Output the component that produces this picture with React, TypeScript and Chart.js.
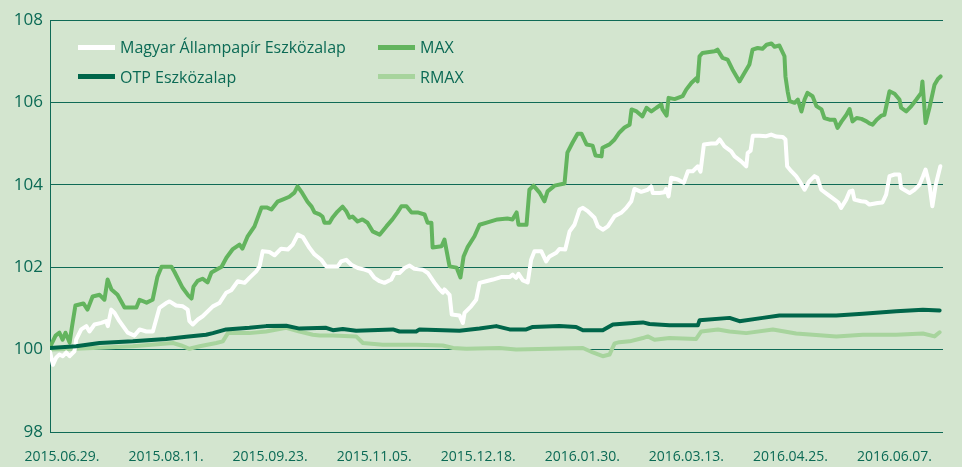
import React, { useEffect, useRef } from "react";
import { Chart, registerables } from "chart.js";

Chart.register(...registerables);

// ---- axis data ----
const TICK_LABELS = [
  "2015.06.29.", "2015.08.11.", "2015.09.23.", "2015.11.05.", "2015.12.18.",
  "2016.01.30.", "2016.03.13.", "2016.04.25.", "2016.06.07.",
];
const TICK_STEP_DAYS = 43;
const X_MAX_DAYS = 369;
const Y_TICKS = [98, 100, 102, 104, 106, 108];

// ---- series: day offsets and index values ----
const MAGYAR_DAYS = [0, 1.2, 2.6, 3.9, 5.3, 6.7, 8.1, 10.1, 10.8, 12.9, 15, 16.3, 18.4, 21.2, 23.2, 23.9, 25.3, 26.7, 28.7, 32.1, 34.9, 37, 39.8, 42.5, 45.2, 48, 49.4, 52.1, 54.9, 56.9, 57.6, 59, 61.1, 63.1, 67.3, 70, 72.8, 74.9, 77.6, 80.4, 82.4, 85.2, 86.6, 87.9, 90.7, 92.8, 95.5, 98.3, 100.3, 102.4, 104.5, 107.2, 109.3, 112.1, 114.1, 116.9, 118.9, 120.3, 122.4, 124.5, 127.2, 130, 132, 134.1, 136.2, 138.2, 141, 142.4, 144.4, 146.5, 148.6, 150.6, 154, 156.1, 158.9, 161, 162.3, 163, 165.1, 166, 169.2, 170.6, 171.3, 174, 176.1, 177.5, 180.2, 183, 186.4, 189.9, 191.2, 192.6, 193.6, 195.4, 197.4, 198.8, 200.2, 203, 205, 206.4, 209.2, 210.5, 212.9, 214.7, 216.7, 218.8, 220.2, 222.2, 225, 226.4, 228.4, 230.5, 233.3, 236, 238.1, 240.2, 241.5, 244.3, 247, 248.4, 249.1, 251.9, 253.9, 254.6, 255.6, 256.7, 259.4, 261.9, 263.6, 265.6, 267.7, 268.8, 270.2, 273.2, 275.3, 276.7, 278.7, 281.5, 282.9, 285.6, 287.7, 288.3, 289.5, 290.4, 293.2, 296, 298, 300.2, 302.8, 303.9, 304.6, 306.3, 308.3, 309.7, 311.8, 313.8, 315.9, 317.1, 318.7, 321.4, 324.2, 325.8, 326.9, 329, 330.4, 331.6, 332.4, 335.2, 337, 338.6, 342, 344, 345.5, 346.9, 349, 351, 351.7, 355.2, 357.2, 359.3, 360.7, 361.8, 363.4, 364.6, 366, 367.9];
const MAGYAR_VALUES = [99.95, 99.63, 99.81, 99.88, 99.84, 99.93, 99.84, 99.96, 100.24, 100.49, 100.57, 100.44, 100.61, 100.65, 100.69, 100.57, 100.97, 100.89, 100.69, 100.41, 100.34, 100.49, 100.44, 100.44, 101.01, 101.13, 101.17, 101.07, 101.05, 100.97, 100.69, 100.61, 100.73, 100.81, 101.05, 101.13, 101.38, 101.44, 101.66, 101.62, 101.74, 101.9, 102.02, 102.39, 102.37, 102.29, 102.45, 102.43, 102.55, 102.79, 102.73, 102.47, 102.31, 102.18, 102.02, 102.02, 102.02, 102.14, 102.18, 102.06, 101.98, 101.94, 101.9, 101.74, 101.66, 101.62, 101.7, 101.86, 101.86, 101.98, 102.04, 101.96, 101.94, 101.86, 101.62, 101.46, 101.38, 101.46, 101.33, 100.85, 100.83, 100.65, 100.89, 101.05, 101.21, 101.62, 101.66, 101.7, 101.76, 101.76, 101.82, 101.74, 101.84, 101.68, 101.63, 102.18, 102.39, 102.39, 102.14, 102.26, 102.35, 102.44, 102.43, 102.87, 103.03, 103.4, 103.44, 103.36, 103.2, 102.99, 102.91, 102.99, 103.24, 103.32, 103.44, 103.6, 103.9, 103.83, 103.88, 103.96, 103.8, 103.8, 103.82, 103.9, 103.72, 104.17, 104.13, 104.05, 104.33, 104.33, 104.45, 104.32, 104.98, 105.0, 105.0, 105.1, 104.93, 104.81, 104.69, 104.57, 104.45, 104.77, 104.83, 105.19, 105.19, 105.18, 105.22, 105.17, 105.16, 105.1, 104.45, 104.33, 104.21, 104.09, 103.88, 104.09, 104.21, 104.17, 103.88, 103.76, 103.64, 103.57, 103.44, 103.64, 103.84, 103.86, 103.64, 103.6, 103.59, 103.52, 103.56, 103.57, 103.76, 104.21, 104.25, 104.25, 103.92, 103.8, 103.88, 104.0, 104.2, 104.37, 104.0, 103.48, 104.0, 104.45];

const OTP_DAYS = [0, 10.8, 20.5, 34.2, 48, 56.3, 64.5, 67.3, 72.8, 82.4, 89.3, 97.6, 103.1, 114.1, 116.9, 121, 126.5, 141.7, 144.4, 151.3, 152.7, 169.2, 177.5, 184.4, 189.9, 196.8, 199.5, 210.5, 217.4, 220.2, 228.4, 232.6, 239.5, 245, 247.7, 256, 267.7, 268.4, 280.8, 284.9, 294.5, 301.4, 324.9, 335.9, 349.7, 360.7, 367.6];
const OTP_VALUES = [100.04, 100.08, 100.16, 100.2, 100.26, 100.31, 100.36, 100.4, 100.49, 100.53, 100.57, 100.58, 100.51, 100.53, 100.47, 100.5, 100.46, 100.49, 100.44, 100.44, 100.49, 100.46, 100.51, 100.57, 100.49, 100.49, 100.55, 100.57, 100.55, 100.47, 100.47, 100.61, 100.64, 100.66, 100.62, 100.59, 100.59, 100.71, 100.77, 100.69, 100.77, 100.83, 100.83, 100.87, 100.93, 100.97, 100.95];

const MAX_DAYS = [0, 2.3, 3.9, 5.2, 6.4, 8.1, 9.1, 10.5, 13.8, 15.5, 17.6, 20.5, 22.5, 23.8, 25.4, 27.9, 30.8, 35.7, 37, 39.9, 42.4, 44.4, 46.1, 50.2, 51.4, 54.8, 57.2, 58.5, 59.3, 61, 63, 65.1, 66.7, 70.9, 72.9, 75.4, 78.3, 79.5, 81.6, 84.5, 87.4, 89.5, 91.5, 94, 96.1, 98.9, 101, 102.3, 103.9, 106.4, 108.1, 109.3, 111.4, 112.6, 113.4, 115.5, 116.7, 118.8, 120.9, 122.5, 123.8, 125, 127.1, 129.1, 131.2, 133.3, 136.2, 139, 141.5, 143.6, 145.2, 147.3, 149.4, 151.9, 154.8, 156, 157.6, 158.1, 161.8, 163, 165.1, 168, 169.6, 170.9, 172.5, 175.4, 177.5, 180.8, 184.9, 189, 191.1, 192.8, 193.6, 196.9, 198.1, 199.8, 202.3, 204.3, 205.6, 208.5, 212.6, 213.8, 215.9, 218, 219.6, 221.7, 224.2, 225.4, 227.9, 228.3, 231.2, 233.3, 235.3, 237.4, 239.5, 240.3, 242.4, 244.8, 246.5, 248.5, 250.6, 252.6, 253.1, 254.8, 255.6, 258.1, 261.4, 262.9, 265, 267.1, 267.6, 268.4, 269.6, 274.6, 275.8, 277.9, 280, 282, 284.9, 287, 289, 290.3, 292.4, 294.4, 296.1, 298.1, 299.4, 301.4, 303.5, 303.9, 304.8, 305.6, 307.7, 309, 310.5, 311.8, 313, 315.1, 316.7, 318.8, 320, 322.1, 324.2, 325.4, 327.1, 329.1, 330.4, 331.6, 333.3, 335.3, 337.4, 338.6, 339.9, 341.6, 343.6, 344.8, 346.9, 349, 351, 351.7, 353.8, 355.9, 358, 360, 360.5, 361.8, 363.4, 365.5, 366.9, 368];
const MAX_VALUES = [100.06, 100.34, 100.41, 100.24, 100.41, 100.17, 100.56, 101.07, 101.12, 100.97, 101.29, 101.33, 101.21, 101.7, 101.46, 101.33, 101.02, 101.02, 101.21, 101.14, 101.21, 101.77, 102.01, 102.01, 101.89, 101.5, 101.31, 101.24, 101.53, 101.67, 101.72, 101.63, 101.87, 102.01, 102.23, 102.43, 102.55, 102.45, 102.74, 102.99, 103.45, 103.45, 103.4, 103.59, 103.64, 103.71, 103.81, 103.96, 103.83, 103.59, 103.47, 103.33, 103.28, 103.23, 103.08, 103.08, 103.2, 103.35, 103.47, 103.35, 103.2, 103.23, 103.11, 103.16, 103.08, 102.87, 102.79, 102.99, 103.16, 103.33, 103.48, 103.48, 103.33, 103.33, 103.28, 103.08, 103.08, 102.48, 102.51, 102.67, 102.02, 101.99, 101.75, 102.26, 102.48, 102.75, 103.03, 103.09, 103.16, 103.18, 103.16, 103.33, 103.03, 103.03, 103.88, 103.98, 103.81, 103.6, 103.84, 103.98, 104.03, 104.78, 105.02, 105.24, 105.24, 104.98, 104.95, 104.71, 104.69, 104.9, 104.98, 105.1, 105.27, 105.39, 105.46, 105.83, 105.78, 105.66, 105.87, 105.78, 105.87, 105.95, 105.83, 105.68, 106.11, 106.08, 106.15, 106.31, 106.47, 106.59, 106.51, 107.12, 107.2, 107.24, 107.28, 107.08, 107.04, 106.8, 106.51, 106.72, 106.92, 107.28, 107.32, 107.3, 107.4, 107.43, 107.35, 107.38, 107.12, 106.63, 106.27, 106.03, 105.99, 106.07, 105.78, 106.07, 106.23, 106.15, 105.91, 105.83, 105.62, 105.58, 105.58, 105.38, 105.54, 105.7, 105.84, 105.54, 105.62, 105.6, 105.54, 105.49, 105.46, 105.58, 105.68, 105.7, 106.27, 106.21, 106.07, 105.87, 105.78, 105.91, 106.07, 106.23, 106.51, 105.5, 105.87, 106.43, 106.57, 106.63];

const RMAX_DAYS = [0, 10.8, 34.2, 50.8, 54.2, 57.6, 61.8, 68.7, 71.4, 73.5, 82.4, 89.3, 97.6, 103.1, 108.6, 111.4, 116.9, 126.5, 129.3, 137.5, 151.3, 162.3, 166.6, 172, 185.7, 192.6, 206.4, 220.2, 224.3, 228.4, 231.2, 233.3, 235.3, 239.5, 245, 247, 249.8, 256, 267, 269.1, 276, 280.8, 287.7, 298.7, 308.3, 324.9, 335.9, 349.7, 360.7, 365.5, 367.6];
const RMAX_VALUES = [100.0, 100.02, 100.08, 100.16, 100.1, 100.02, 100.08, 100.16, 100.2, 100.4, 100.4, 100.44, 100.53, 100.44, 100.36, 100.34, 100.34, 100.32, 100.16, 100.12, 100.12, 100.1, 100.04, 100.02, 100.04, 100.0, 100.02, 100.04, 99.93, 99.84, 99.88, 100.15, 100.18, 100.2, 100.28, 100.32, 100.24, 100.28, 100.26, 100.44, 100.49, 100.44, 100.4, 100.49, 100.39, 100.32, 100.36, 100.36, 100.39, 100.32, 100.42];

// ---- style ----
const BG = "#d3e5cf";
const TEXT = "#0b6a55";
const GRID = "#0f6a56";
const C_MAGYAR = "#ffffff";
const C_OTP = "#00664a";
const C_MAX = "#63b45e";
const C_RMAX = "#a7d49d";
const FONT = "'Open Sans', 'Noto Sans', sans-serif";

const LEGEND = [
  { label: "Magyar Állampapír Eszközalap", color: C_MAGYAR, left: 78, top: 47 },
  { label: "OTP Eszközalap", color: C_OTP, left: 78, top: 76.5 },
  { label: "MAX", color: C_MAX, left: 378, top: 47 },
  { label: "RMAX", color: C_RMAX, left: 378, top: 76.5 },
];

const toPoints = (days: number[], values: number[]) =>
  days.map((d, i) => ({ x: d, y: values[i] }));

export default function App() {
  const ref = useRef<HTMLCanvasElement | null>(null);

  useEffect(() => {
    if (!ref.current) return;
    const line = (label: string, data: any, color: string) => ({
      label,
      data,
      borderColor: color,
      backgroundColor: color,
      borderWidth: 4,
      pointRadius: 0,
      tension: 0,
      fill: false,
      borderJoinStyle: "round" as const,
      borderCapStyle: "round" as const,
    });
    const chart = new Chart(ref.current, {
      type: "line",
      data: {
        datasets: [
          line("OTP Eszközalap", toPoints(OTP_DAYS, OTP_VALUES), C_OTP),
          line("MAX", toPoints(MAX_DAYS, MAX_VALUES), C_MAX),
          line("Magyar Állampapír Eszközalap", toPoints(MAGYAR_DAYS, MAGYAR_VALUES), C_MAGYAR),
          line("RMAX", toPoints(RMAX_DAYS, RMAX_VALUES), C_RMAX),
        ],
      },
      options: {
        animation: false,
        responsive: false,
        devicePixelRatio: 1,
        layout: { padding: { left: 0, right: 19, top: 20, bottom: 0 } },
        plugins: { legend: { display: false }, tooltip: { enabled: false } },
        scales: {
          x: {
            type: "linear",
            min: 0,
            max: X_MAX_DAYS,
            grid: { display: false },
            border: { display: false },
            afterBuildTicks: (s: any) => {
              s.ticks = TICK_LABELS.map((_, i) => ({ value: i * TICK_STEP_DAYS }));
            },
            afterFit: (s: any) => {
              s.height = 35;
            },
            ticks: {
              autoSkip: false,
              maxRotation: 0,
              minRotation: 0,
              padding: 9,
              labelOffset: 12,
              color: TEXT,
              font: { family: FONT, size: 14 },
              callback: (v: any) => TICK_LABELS[Math.round(Number(v) / TICK_STEP_DAYS)] ?? "",
            },
          },
          y: {
            min: 98,
            max: 108,
            afterBuildTicks: (s: any) => {
              s.ticks = Y_TICKS.map((v) => ({ value: v }));
            },
            afterFit: (s: any) => {
              s.width = 50;
            },
            grid: { color: GRID, lineWidth: 1, drawTicks: false },
            border: { display: true, color: GRID, width: 1 },
            ticks: {
              padding: 7,
              color: TEXT,
              font: { family: FONT, size: 17 },
            },
          },
        },
      },
    });
    return () => chart.destroy();
  }, []);

  return (
    <div
      style={{
        position: "absolute",
        left: 0,
        top: 0,
        width: 962,
        height: 467,
        background: BG,
        overflow: "hidden",
      }}
    >
      <canvas ref={ref} width={962} height={467} style={{ display: "block" }} />
      {LEGEND.map((item) => (
        <div
          key={item.label}
          style={{
            position: "absolute",
            left: item.left,
            top: item.top - 10,
            height: 20,
            display: "flex",
            alignItems: "center",
            fontFamily: FONT,
            fontSize: 16,
            color: TEXT,
            whiteSpace: "nowrap",
          }}
        >
          <span
            style={{
              display: "inline-block",
              width: 37,
              height: 5,
              background: item.color,
              marginRight: 5,
            }}
          />
          <span style={{ lineHeight: "20px" }}>{item.label}</span>
        </div>
      ))}
    </div>
  );
}
